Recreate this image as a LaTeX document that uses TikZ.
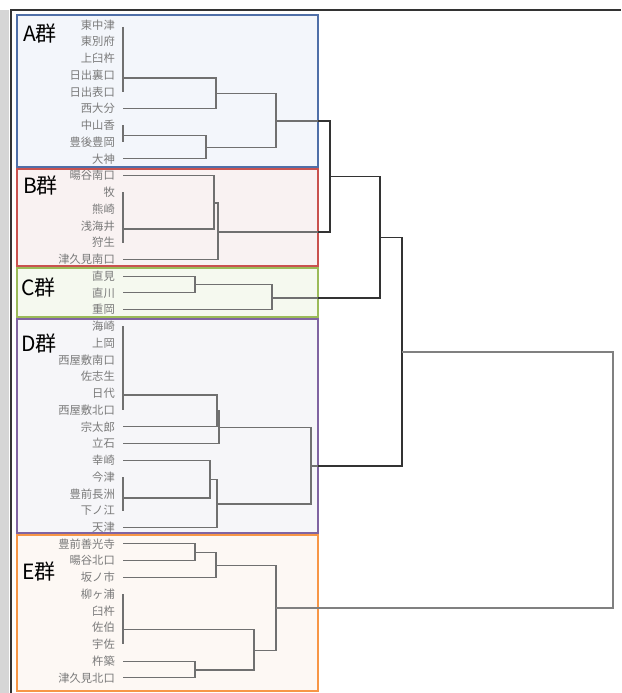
\documentclass[tikz,border=0pt]{standalone}
\usepackage{fontspec}
\newfontfamily\jp{Noto Sans CJK JP}
\definecolor{labelgray}{HTML}{7A7A7A}
\definecolor{linegray}{HTML}{707070}
\definecolor{darkline}{HTML}{333333}
\definecolor{topgray}{HTML}{808080}
\definecolor{stripgray}{HTML}{D6D6D6}
\definecolor{bA}{HTML}{4F6FA8}\definecolor{fA}{HTML}{F3F6FB}
\definecolor{bB}{HTML}{C9524F}\definecolor{fB}{HTML}{F9F2F2}
\definecolor{bC}{HTML}{9BBB59}\definecolor{fC}{HTML}{F5F9EF}
\definecolor{bD}{HTML}{8064A2}\definecolor{fD}{HTML}{F6F6F9}
\definecolor{bE}{HTML}{F79646}\definecolor{fE}{HTML}{FDF8F4}
\begin{document}
\begin{tikzpicture}[x=1pt,y=-1pt,
  lbl/.style={anchor=east,font=\jp\fontsize{11.3}{12}\selectfont,text=labelgray,inner sep=0pt},
  grp/.style={anchor=west,font=\jp\fontsize{21}{22}\selectfont,inner sep=0pt},
  gbox/.style={line width=2pt},
  dl/.style={line width=1.15pt,draw=linegray},
  dk/.style={line width=1.2pt,draw=darkline},
  tg/.style={line width=1.8pt,draw=topgray}]
\useasboundingbox (0,0) rectangle (621,693);
% frame
\fill[stripgray] (0,10) rectangle (9,693);
\draw[line width=1.3pt,draw=darkline] (11,693) -- (11,10) -- (621,10);
% group boxes
\draw[gbox,draw=bA,fill=fA] (17,15) rectangle (318,167);
\draw[gbox,draw=bB,fill=fB] (17,168.5) rectangle (318,266);
\draw[gbox,draw=bC,fill=fC] (17,268) rectangle (318,316.5);
\draw[gbox,draw=bD,fill=fD] (17,318.5) rectangle (318,532.5);
\draw[gbox,draw=bE,fill=fE] (17,535) rectangle (318,691);
\node[grp] (gA) at (23,34) {A群};
\node[grp] (gB) at (23,186) {B群};
\node[grp] (gC) at (21,288) {C群};
\node[grp] (gD) at (21,344) {D群};
\node[grp] (gE) at (22,572) {E群};
% leaf labels
\node[lbl] (l0) at (115,25.0) {東中津};
\node[lbl] (l1) at (115,41.7) {東別府};
\node[lbl] (l2) at (115,58.5) {上臼杵};
\node[lbl] (l3) at (115,75.2) {日出裏口};
\node[lbl] (l4) at (115,92.0) {日出表口};
\node[lbl] (l5) at (115,108.7) {西大分};
\node[lbl] (l6) at (115,125.4) {中山香};
\node[lbl] (l7) at (115,142.2) {豊後豊岡};
\node[lbl] (l8) at (115,158.9) {大神};
\node[lbl] (l9) at (115,175.7) {暘谷南口};
\node[lbl] (l10) at (115,192.4) {牧};
\node[lbl] (l11) at (115,209.1) {熊崎};
\node[lbl] (l12) at (115,225.9) {浅海井};
\node[lbl] (l13) at (115,242.6) {狩生};
\node[lbl] (l14) at (115,259.4) {津久見南口};
\node[lbl] (l15) at (115,276.1) {直見};
\node[lbl] (l16) at (115,292.8) {直川};
\node[lbl] (l17) at (115,309.6) {重岡};
\node[lbl] (l18) at (115,326.3) {海崎};
\node[lbl] (l19) at (115,343.1) {上岡};
\node[lbl] (l20) at (115,359.8) {西屋敷南口};
\node[lbl] (l21) at (115,376.5) {佐志生};
\node[lbl] (l22) at (115,393.3) {日代};
\node[lbl] (l23) at (115,410.0) {西屋敷北口};
\node[lbl] (l24) at (115,426.8) {宗太郎};
\node[lbl] (l25) at (115,443.5) {立石};
\node[lbl] (l26) at (115,460.2) {幸崎};
\node[lbl] (l27) at (115,477.0) {今津};
\node[lbl] (l28) at (115,493.7) {豊前長洲};
\node[lbl] (l29) at (115,510.5) {下ノ江};
\node[lbl] (l30) at (115,527.2) {天津};
\node[lbl] (l31) at (115,543.9) {豊前善光寺};
\node[lbl] (l32) at (115,560.7) {暘谷北口};
\node[lbl] (l33) at (115,577.4) {坂ノ市};
\node[lbl] (l34) at (115,594.2) {柳ヶ浦};
\node[lbl] (l35) at (115,610.9) {臼杵};
\node[lbl] (l36) at (115,627.6) {佐伯};
\node[lbl] (l37) at (115,644.4) {宇佐};
\node[lbl] (l38) at (115,661.1) {杵築};
\node[lbl] (l39) at (115,677.9) {津久見北口};
% leaf stubs
\foreach \i in {0,...,39}{\coordinate (s\i) at ([xshift=8pt]l\i.east);}
% ---- A group
\draw[dl] ([yshift=-2pt]s0) -- (s4);
\coordinate (cA0) at (123,78);
\draw[dl] (cA0) -| (216,108.7) -- (s5);
\coordinate (cA1) at (216,93.4);
\draw[dl] (s6) -- (s7);
\coordinate (cA2) at (123,135.5);
\draw[dl] (cA2) -| (206,158.9) -- (s8);
\coordinate (cA3) at (206,147.2);
\draw[dl] (cA1) -| (276,147.2) -- (cA3);
\coordinate (cA) at (276,121);
% ---- B group
\draw[dl] (s10) -- (s13);
\coordinate (cB0) at (123,229);
\draw[dl] (s9) -| (214,229) -- (cB0);
\coordinate (cB1) at (214,203);
\draw[dl] (cB1) -| (218,259.4) -- (s14);
\coordinate (cB) at (218,232);
% ---- C group
\draw[dl] (s15) -| (195,292.8) -- (s16);
\coordinate (cC1) at (195,284.5);
\draw[dl] (cC1) -| (272,309.6) -- (s17);
\coordinate (cC) at (272,298);
% ---- D group
\draw[dl] (s18) -- (s23);
\coordinate (cD0) at (123,395);
\draw[dl] (cD0) -| (217,426.8) -- (s24);
\coordinate (cD1) at (217,411);
\draw[dl] (cD1) -| (219,443.5) -- (s25);
\coordinate (cD2) at (219,427.8);
\draw[dl] (s27) -- (s29);
\coordinate (cD3) at (123,498);
\draw[dl] (s26) -| (210,498) -- (cD3);
\coordinate (cD4) at (210,479.5);
\draw[dl] (cD4) -| (217,527.2) -- (s30);
\coordinate (cD5) at (217,504);
\draw[dl] (cD2) -| (311,504) -- (cD5);
\coordinate (cD) at (311,466);
% ---- E group
\draw[dl] (s31) -| (195,560.7) -- (s32);
\coordinate (cE1) at (195,552.5);
\draw[dl] (cE1) -| (216,577.4) -- (s33);
\coordinate (cE2) at (216,565.5);
\draw[dl] (s34) -- (s37);
\coordinate (cE3) at (123,629.5);
\draw[dl] (s38) -| (195,677.9) -- (s39);
\coordinate (cE4) at (195,670);
\draw[dl] (cE3) -| (254,670) -- (cE4);
\coordinate (cE5) at (254,650.5);
\draw[dl] (cE2) -| (276,650.5) -- (cE5);
\coordinate (cE) at (276,608);
% ---- joins between groups
\coordinate (jAB) at (330,176.5);
\coordinate (jABC) at (380,237.5);
\coordinate (jABCD) at (402,352);
\draw[dl] (cA) -- (318,121);
\draw[dl] (cB) -- (318,232);
\draw[dl] (cC) -- (318,298);
\draw[dl] (cD) -- (318,466);
\draw[dk] (318,121) -| (330,232) -- (318,232);
\draw[dk] (jAB) -| (380,298) -- (318,298);
\draw[dk] (jABC) -| (402,466) -- (318,466);
\draw[tg] (jABCD) -| (613,608) -- (cE);
\end{tikzpicture}
\end{document}
